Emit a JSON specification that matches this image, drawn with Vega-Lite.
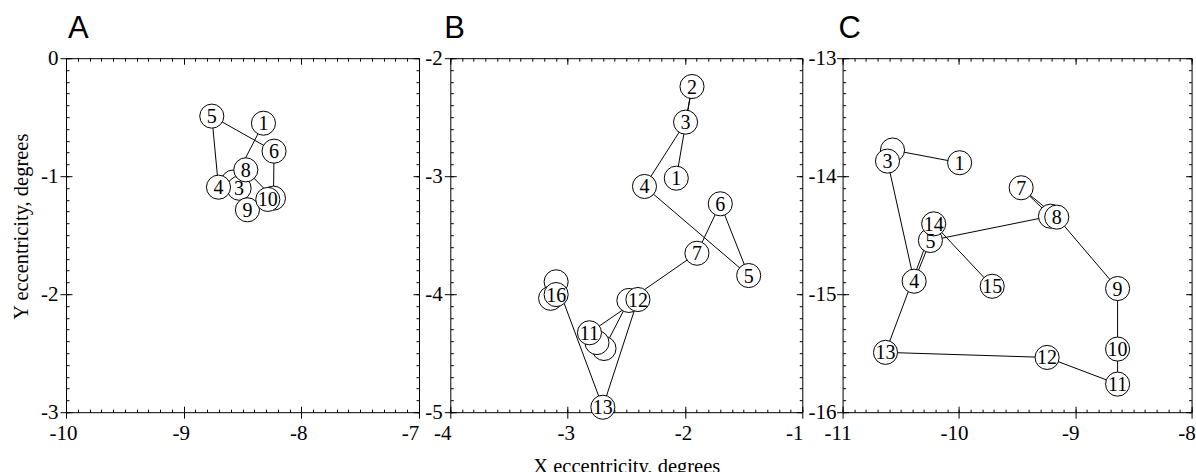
{
  "$schema": "https://vega.github.io/schema/vega-lite/v6.json",
  "padding": {"left": 11, "top": 13.2, "right": 0, "bottom": 0},
  "datasets": {
    "A": [
      {"n": 1, "x": -8.322, "y": -0.551, "label": "1"},
      {"n": 2, "x": -8.58, "y": -1.05, "label": ""},
      {"n": 3, "x": -8.529, "y": -1.102, "label": "3"},
      {"n": 4, "x": -8.704, "y": -1.093, "label": "4"},
      {"n": 5, "x": -8.761, "y": -0.491, "label": "5"},
      {"n": 6, "x": -8.232, "y": -0.788, "label": "6"},
      {"n": 7, "x": -8.237, "y": -1.186, "label": ""},
      {"n": 8, "x": -8.472, "y": -0.946, "label": "8"},
      {"n": 9, "x": -8.458, "y": -1.285, "label": "9"},
      {"n": 10, "x": -8.285, "y": -1.197, "label": "10"}
    ],
    "B": [
      {"n": 1, "x": -2.074, "y": -3.017, "label": "1"},
      {"n": 2, "x": -1.94, "y": -2.24, "label": "2"},
      {"n": 3, "x": -1.995, "y": -2.542, "label": "3"},
      {"n": 4, "x": -2.345, "y": -3.087, "label": "4"},
      {"n": 5, "x": -1.457, "y": -3.842, "label": "5"},
      {"n": 6, "x": -1.699, "y": -3.234, "label": "6"},
      {"n": 7, "x": -1.898, "y": -3.653, "label": "7"},
      {"n": 8, "x": -2.478, "y": -4.053, "label": ""},
      {"n": 9, "x": -2.69, "y": -4.46, "label": ""},
      {"n": 10, "x": -2.75, "y": -4.41, "label": ""},
      {"n": 11, "x": -2.814, "y": -4.327, "label": "11"},
      {"n": 12, "x": -2.401, "y": -4.045, "label": "12"},
      {"n": 13, "x": -2.7, "y": -4.958, "label": "13"},
      {"n": 14, "x": -3.098, "y": -3.895, "label": ""},
      {"n": 15, "x": -3.145, "y": -4.035, "label": ""},
      {"n": 16, "x": -3.098, "y": -4.003, "label": "16"}
    ],
    "C": [
      {"n": 1, "x": -9.994, "y": -13.886, "label": "1"},
      {"n": 2, "x": -10.571, "y": -13.778, "label": ""},
      {"n": 3, "x": -10.614, "y": -13.872, "label": "3"},
      {"n": 4, "x": -10.385, "y": -14.89, "label": "4"},
      {"n": 5, "x": -10.245, "y": -14.545, "label": "5"},
      {"n": 6, "x": -9.213, "y": -14.339, "label": ""},
      {"n": 7, "x": -9.465, "y": -14.098, "label": "7"},
      {"n": 8, "x": -9.159, "y": -14.347, "label": "8"},
      {"n": 9, "x": -8.636, "y": -14.952, "label": "9"},
      {"n": 10, "x": -8.636, "y": -15.465, "label": "10"},
      {"n": 11, "x": -8.636, "y": -15.762, "label": "11"},
      {"n": 12, "x": -9.242, "y": -15.536, "label": "12"},
      {"n": 13, "x": -10.631, "y": -15.493, "label": "13"},
      {"n": 14, "x": -10.217, "y": -14.404, "label": "14"},
      {"n": 15, "x": -9.714, "y": -14.933, "label": "15"}
    ]
  },
  "hconcat": [
    {
      "width": 353, "height": 354,
      "title": {"text": "A", "anchor": "start", "frame": "group", "font": "Liberation Sans", "fontSize": 31, "fontWeight": "normal", "baseline": "alphabetic", "offset": -22.3, "dx": 2, "color": "black"},
      "data": {"name": "A"},
      "layer": [
        {"mark": {"type": "line", "color": "black", "strokeWidth": 1},
         "encoding": {
           "x": {"field": "x", "type": "quantitative", "scale": {"domain": [-10, -7], "nice": false, "zero": false},
                 "axis": {"orient": "bottom", "values": [-10, -9, -8, -7], "tickSize": 6, "labelPadding": 4.5, "labelOffset": {"condition": {"test": "datum.value == -7", "value": -9}, "value": -3}, "labelFlush": false, "title": null, "labelExpr": "replace(datum.label, '−', '-')"}},
           "y": {"field": "y", "type": "quantitative", "scale": {"domain": [-3, 0], "nice": false, "zero": false},
                 "axis": {"orient": "left", "values": [0, -1, -2, -3], "tickSize": 6, "labelPadding": 2, "title": "Y eccentricity, degrees", "titlePadding": 9, "titleY": 168, "labelExpr": "replace(datum.label, '−', '-')"}},
           "order": {"field": "n", "type": "quantitative"}
         }},
        {"mark": {"type": "point", "shape": "circle", "filled": true, "fill": "white", "stroke": "black", "strokeWidth": 1, "size": 580, "opacity": 1},
         "encoding": {
           "x": {"field": "x", "type": "quantitative", "axis": {"orient": "bottom", "values": [-10, -9, -8, -7], "tickSize": -6, "labels": false, "domain": false, "title": null}},
           "y": {"field": "y", "type": "quantitative", "axis": {"orient": "left", "values": [0, -1, -2, -3], "tickSize": -6, "labels": false, "domain": false, "title": null}}
         }},
        {"mark": {"type": "text", "font": "Liberation Serif", "fontSize": 20, "baseline": "middle", "align": "center", "color": "black", "dy": 1},
         "encoding": {
           "x": {"field": "x", "type": "quantitative", "axis": {"orient": "bottom", "tickCount": 30, "tickSize": -3, "labels": false, "domain": false, "title": null}},
           "y": {"field": "y", "type": "quantitative", "axis": {"orient": "left", "tickCount": 30, "tickSize": -3, "labels": false, "domain": false, "title": null}},
           "text": {"field": "label"}
         }},
        {"mark": {"type": "point", "opacity": 0},
         "encoding": {
           "x": {"field": "x", "type": "quantitative", "axis": {"orient": "top", "values": [-10, -9, -8, -7], "tickSize": -6, "labels": false, "title": null}},
           "y": {"field": "y", "type": "quantitative", "axis": {"orient": "right", "values": [0, -1, -2, -3], "tickSize": -6, "labels": false, "title": null}}
         }},
        {"mark": {"type": "point", "opacity": 0},
         "encoding": {
           "x": {"field": "x", "type": "quantitative", "axis": {"orient": "top", "tickCount": 30, "tickSize": -3, "labels": false, "domain": false, "title": null}},
           "y": {"field": "y", "type": "quantitative", "axis": {"orient": "right", "tickCount": 30, "tickSize": -3, "labels": false, "domain": false, "title": null}}
         }}
      ],
      "resolve": {"axis": {"x": "independent", "y": "independent"}}
    },
    {
      "width": 352, "height": 354,
      "title": {"text": "B", "anchor": "start", "frame": "group", "font": "Liberation Sans", "fontSize": 31, "fontWeight": "normal", "baseline": "alphabetic", "offset": -22.3, "dx": -6, "color": "black"},
      "data": {"name": "B"},
      "layer": [
        {"mark": {"type": "line", "color": "black", "strokeWidth": 1},
         "encoding": {
           "x": {"field": "x", "type": "quantitative", "scale": {"domain": [-4, -1], "nice": false, "zero": false},
                 "axis": {"orient": "bottom", "values": [-4, -3, -2, -1], "tickSize": 6, "labelPadding": 4.5, "labelOffset": {"condition": {"test": "datum.value == -4 || datum.value == -1", "value": -8}, "value": -2}, "labelFlush": false, "title": "X eccentricity, degrees", "titlePadding": 13, "labelExpr": "replace(datum.label, '−', '-')"}},
           "y": {"field": "y", "type": "quantitative", "scale": {"domain": [-5, -2], "nice": false, "zero": false},
                 "axis": {"orient": "left", "values": [-2, -3, -4, -5], "tickSize": 6, "labelPadding": 2, "title": null, "labelExpr": "replace(datum.label, '−', '-')"}},
           "order": {"field": "n", "type": "quantitative"}
         }},
        {"mark": {"type": "point", "shape": "circle", "filled": true, "fill": "white", "stroke": "black", "strokeWidth": 1, "size": 580, "opacity": 1},
         "encoding": {
           "x": {"field": "x", "type": "quantitative", "axis": {"orient": "bottom", "values": [-4, -3, -2, -1], "tickSize": -6, "labels": false, "domain": false, "title": null}},
           "y": {"field": "y", "type": "quantitative", "axis": {"orient": "left", "values": [-2, -3, -4, -5], "tickSize": -6, "labels": false, "domain": false, "title": null}}
         }},
        {"mark": {"type": "text", "font": "Liberation Serif", "fontSize": 20, "baseline": "middle", "align": "center", "color": "black", "dy": 1},
         "encoding": {
           "x": {"field": "x", "type": "quantitative", "axis": {"orient": "bottom", "tickCount": 30, "tickSize": -3, "labels": false, "domain": false, "title": null}},
           "y": {"field": "y", "type": "quantitative", "axis": {"orient": "left", "tickCount": 30, "tickSize": -3, "labels": false, "domain": false, "title": null}},
           "text": {"field": "label"}
         }},
        {"mark": {"type": "point", "opacity": 0},
         "encoding": {
           "x": {"field": "x", "type": "quantitative", "axis": {"orient": "top", "values": [-4, -3, -2, -1], "tickSize": -6, "labels": false, "title": null}},
           "y": {"field": "y", "type": "quantitative", "axis": {"orient": "right", "values": [-2, -3, -4, -5], "tickSize": -6, "labels": false, "title": null}}
         }},
        {"mark": {"type": "point", "opacity": 0},
         "encoding": {
           "x": {"field": "x", "type": "quantitative", "axis": {"orient": "top", "tickCount": 30, "tickSize": -3, "labels": false, "domain": false, "title": null}},
           "y": {"field": "y", "type": "quantitative", "axis": {"orient": "right", "tickCount": 30, "tickSize": -3, "labels": false, "domain": false, "title": null}}
         }}
      ],
      "resolve": {"axis": {"x": "independent", "y": "independent"}}
    },
    {
      "width": 349, "height": 354,
      "title": {"text": "C", "anchor": "start", "frame": "group", "font": "Liberation Sans", "fontSize": 31, "fontWeight": "normal", "baseline": "alphabetic", "offset": -22.3, "dx": -4, "color": "black"},
      "data": {"name": "C"},
      "layer": [
        {"mark": {"type": "line", "color": "black", "strokeWidth": 1},
         "encoding": {
           "x": {"field": "x", "type": "quantitative", "scale": {"domain": [-11, -8], "nice": false, "zero": false},
                 "axis": {"orient": "bottom", "values": [-11, -10, -9, -8], "tickSize": 6, "labelPadding": 4.5, "labelOffset": -5, "labelFlush": false, "title": null, "labelExpr": "replace(datum.label, '−', '-')"}},
           "y": {"field": "y", "type": "quantitative", "scale": {"domain": [-16, -13], "nice": false, "zero": false},
                 "axis": {"orient": "left", "values": [-13, -14, -15, -16], "tickSize": 6, "labelPadding": 0.5, "title": null, "labelExpr": "replace(datum.label, '−', '-')"}},
           "order": {"field": "n", "type": "quantitative"}
         }},
        {"mark": {"type": "point", "shape": "circle", "filled": true, "fill": "white", "stroke": "black", "strokeWidth": 1, "size": 580, "opacity": 1},
         "encoding": {
           "x": {"field": "x", "type": "quantitative", "axis": {"orient": "bottom", "values": [-11, -10, -9, -8], "tickSize": -6, "labels": false, "domain": false, "title": null}},
           "y": {"field": "y", "type": "quantitative", "axis": {"orient": "left", "values": [-13, -14, -15, -16], "tickSize": -6, "labels": false, "domain": false, "title": null}}
         }},
        {"mark": {"type": "text", "font": "Liberation Serif", "fontSize": 20, "baseline": "middle", "align": "center", "color": "black", "dy": 1},
         "encoding": {
           "x": {"field": "x", "type": "quantitative", "axis": {"orient": "bottom", "tickCount": 30, "tickSize": -3, "labels": false, "domain": false, "title": null}},
           "y": {"field": "y", "type": "quantitative", "axis": {"orient": "left", "tickCount": 30, "tickSize": -3, "labels": false, "domain": false, "title": null}},
           "text": {"field": "label"}
         }},
        {"mark": {"type": "point", "opacity": 0},
         "encoding": {
           "x": {"field": "x", "type": "quantitative", "axis": {"orient": "top", "values": [-11, -10, -9, -8], "tickSize": -6, "labels": false, "title": null}},
           "y": {"field": "y", "type": "quantitative", "axis": {"orient": "right", "values": [-13, -14, -15, -16], "tickSize": -6, "labels": false, "title": null}}
         }},
        {"mark": {"type": "point", "opacity": 0},
         "encoding": {
           "x": {"field": "x", "type": "quantitative", "axis": {"orient": "top", "tickCount": 30, "tickSize": -3, "labels": false, "domain": false, "title": null}},
           "y": {"field": "y", "type": "quantitative", "axis": {"orient": "right", "tickCount": 30, "tickSize": -3, "labels": false, "domain": false, "title": null}}
         }}
      ],
      "resolve": {"axis": {"x": "independent", "y": "independent"}}
    }
  ],
  "spacing": 4.3,
  "config": {
    "view": {"stroke": null},
    "font": "Liberation Serif",
    "axis": {"domainColor": "black", "tickColor": "black", "labelColor": "black", "titleColor": "black", "grid": false, "labelFont": "Liberation Serif", "labelFontSize": 21, "titleFont": "Liberation Serif", "titleFontSize": 20.5, "titleFontWeight": "normal", "domainWidth": 1, "tickWidth": 1}
  }
}
